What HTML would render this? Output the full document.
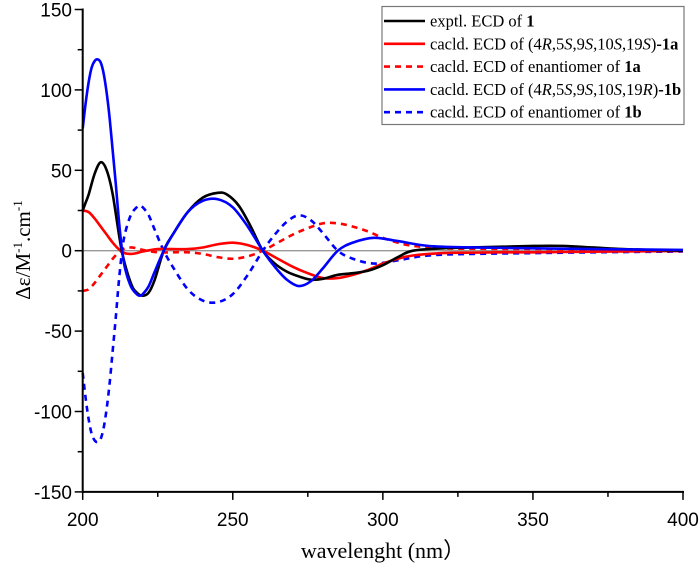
<!DOCTYPE html>
<html><head><meta charset="utf-8"><style>
html,body{margin:0;padding:0;background:#fff;}
svg{display:block;}
</style></head><body>
<svg id="chart" width="700" height="564" xmlns="http://www.w3.org/2000/svg"></svg>
<script>
const xTicks=[200,250,300,350,400];
const yTicks=[-150,-100,-50,0,50,100,150];
const wlExp=[200,201,202,204,206,208,210,213,216,218,220,222,224,227,230,235,240,245,248,252,256,260,264,268,272,276,280,285,290,295,300,305,310,320,330,340,350,360,370,380,390,400];
const exptl=[25,30,35,48,55,50,35,0,-20,-26,-28,-26,-18,0,10,24,33,36,35,28,15,0,-8,-13,-16,-18,-17.5,-15,-14,-12.5,-9,-4,0,1.5,2,2.5,3,3,2,1,0.5,0];
const wlA=[200,202,204,206,208,210,212,214,216,218,220,225,230,235,240,245,250,255,260,265,270,275,280,285,290,295,300,305,310,320,330,340,350,360,370,380,390,400];
const calcA=[25,24,20,15,10,5,1,-1.5,-2,-1.5,-0.5,1,1,1,2,4,5,3.5,0,-5,-10,-14,-17,-17,-15,-12,-8,-5,-3,-1.5,-1.2,-1,-1,-0.8,-0.6,-0.5,-0.3,-0.2];
const enantA=[-25,-24,-20,-15,-10,-5,-1,1.5,2,1.5,0.5,-1,-1,-1,-2,-4,-5,-3.5,0,5,10,14,17,17,15,12,8,5,3,1.5,1.2,1,1,0.8,0.6,0.5,0.3,0.2];
const wlB=[200,201,202,203,204,205,206,207,208,209,210,211,212,213,214,216,218,219,220,222,224,227,230,235,240,245,250,255,260,264,268,272,276,280,285,290,297,305,315,330,350,370,400];
const calcB=[76,92,105,114,118,119,117,110,98,82,62,42,20,2,-10,-22,-27,-28,-27,-22,-13,0,10,24,31,32,27,15,0,-10,-18,-22,-19,-11,0,5,8,6,3,2,1.5,1,0.5];
const enantB=[-76,-92,-105,-114,-118,-119,-117,-110,-98,-82,-62,-42,-20,-2,10,22,27,28,27,22,13,0,-10,-24,-31,-32,-27,-15,0,10,18,22,19,11,0,-5,-8,-6,-3,-2,-1.5,-1,-0.5];

const NS='http://www.w3.org/2000/svg';
const svg=document.getElementById('chart');
const X0=82.7,X1=683,Y0=250.7,YS=241.2/150;
function xs(v){return X0+(v-200)/200*(X1-X0);}
function ys(v){return Y0-v*YS;}
function mk(tag,attrs,parent){const e=document.createElementNS(NS,tag);for(const k in attrs)e.setAttribute(k,attrs[k]);(parent||svg).appendChild(e);return e;}
function smooth(xsA,vals){
  const p=xsA.map((w,i)=>[xs(w),ys(vals[i])]);
  let d='M'+p[0][0]+','+p[0][1];
  for(let i=0;i<p.length-1;i++){
    const p0=p[i-1]||p[i],p1=p[i],p2=p[i+1],p3=p[i+2]||p2;
    const c1=[p1[0]+(p2[0]-p0[0])/6,p1[1]+(p2[1]-p0[1])/6];
    const c2=[p2[0]-(p3[0]-p1[0])/6,p2[1]-(p3[1]-p1[1])/6];
    d+=' C'+c1[0].toFixed(2)+','+c1[1].toFixed(2)+' '+c2[0].toFixed(2)+','+c2[1].toFixed(2)+' '+p2[0].toFixed(2)+','+p2[1].toFixed(2);
  }
  return d;
}
const zl=mk('line',{x1:X0,x2:X1,y1:ys(0),y2:ys(0),stroke:'#999','stroke-width':1.3});


const series=[
 [wlA,enantA,'#f00','6,5','series-enantiomer-1a'],
 [wlB,enantB,'#0000ff','6,5','series-enantiomer-1b'],
 [wlA,calcA,'#f00','','series-calcd-1a'],
 [wlExp,exptl,'#000','','series-exptl-1'],
 [wlB,calcB,'#0000ff','','series-calcd-1b']
];
series.forEach(s=>{
 const pth=mk('path',{d:smooth(s[0],s[1]),fill:'none',stroke:s[2],'stroke-width':2.6,'stroke-dasharray':s[3]||'none','stroke-linejoin':'round'});
 
 
});
const ax=mk('line',{x1:X0,x2:X1+1,y1:ys(-150),y2:ys(-150),stroke:'#000','stroke-width':2});


const ay=mk('line',{x1:X0,x2:X0,y1:ys(-150)+1,y2:ys(150)-1,stroke:'#000','stroke-width':2});


for(let v=200;v<=400;v+=25){
 const major=v%50===0;
 const t=mk('line',{x1:xs(v),x2:xs(v),y1:ys(-150),y2:ys(-150)+(major?8:5),stroke:'#000','stroke-width':1.5});
 
 
}
xTicks.forEach(v=>{
 const t=mk('text',{x:xs(v),y:526,'text-anchor':'middle','font-family':'Liberation Sans, sans-serif','font-size':19});
 t.textContent=v;
 
 
});
for(let v=-150;v<=150;v+=25){
 const major=v%50===0;
 const t=mk('line',{x1:X0,x2:X0-(major?8:5),y1:ys(v),y2:ys(v),stroke:'#000','stroke-width':1.5});
 
 
}
yTicks.forEach(v=>{
 const t=mk('text',{x:72,y:ys(v)+7,'text-anchor':'end','font-family':'Liberation Sans, sans-serif','font-size':19});
 t.textContent=v;
 
 
});
const xt=mk('text',{x:383,y:558,'text-anchor':'middle','font-family':'Liberation Serif, serif','font-size':22});
xt.textContent='wavelenght (nm）';


const yt=mk('text',{x:0,y:0,'text-anchor':'middle','font-family':'Liberation Serif, serif','font-size':21,transform:'translate(30,250) rotate(-90)'});
yt.innerHTML='Δε/M<tspan font-size="13" dy="-8">-1</tspan><tspan dy="8">.cm</tspan><tspan font-size="13" dy="-8">-1</tspan>';


const lg=mk('g',{});


mk('rect',{x:382,y:6.5,width:302,height:118,fill:'#fff',stroke:'#777','stroke-width':1.2},lg);
const entries=[
 ['#000','','exptl. ECD of  <tspan font-weight="bold">1</tspan>'],
 ['#f00','','cacld. ECD of (4<tspan font-style="italic">R</tspan>,5<tspan font-style="italic">S</tspan>,9<tspan font-style="italic">S</tspan>,10<tspan font-style="italic">S</tspan>,19<tspan font-style="italic">S</tspan>)<tspan font-weight="bold">-1a</tspan>'],
 ['#f00','6,5','cacld. ECD of enantiomer of <tspan font-weight="bold">1a</tspan>'],
 ['#0000ff','','cacld. ECD of (4<tspan font-style="italic">R</tspan>,5<tspan font-style="italic">S</tspan>,9<tspan font-style="italic">S</tspan>,10<tspan font-style="italic">S</tspan>,19<tspan font-style="italic">R</tspan>)<tspan font-weight="bold">-1b</tspan>'],
 ['#0000ff','6,5','cacld. ECD of enantiomer of <tspan font-weight="bold">1b</tspan>']
];
entries.forEach((e,i)=>{
 const y=21+i*22.8;
 const g=mk('g',{},lg);
 
 
 mk('line',{x1:384,x2:425,y1:y,y2:y,stroke:e[0],'stroke-width':2.6,'stroke-dasharray':e[1]||'none'},g);
 const t=mk('text',{x:430,y:y+5.5,'font-family':'Liberation Serif, serif','font-size':16.5},g);
 t.innerHTML=e[2];
});
</script>
</body></html>
